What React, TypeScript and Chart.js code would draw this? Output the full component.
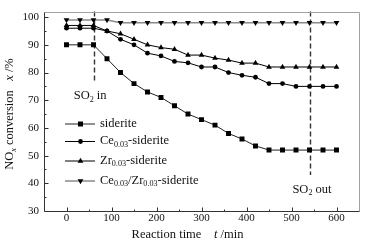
import React, { useEffect, useRef } from 'react';
import { Chart, registerables } from 'chart.js';

Chart.register(...registerables);

// ---- data ----
const times = [0, 30, 60, 90, 120, 150, 180, 210, 240, 270, 300, 330, 360, 390, 420, 450, 480, 510, 540, 570, 600];
const siderite = [90, 90, 90, 85, 80, 76, 73, 71, 68, 65, 63, 61, 58, 56, 53.5, 52, 52, 52, 52, 52, 52];
const ceSiderite = [96, 96, 96, 95, 92, 90, 87, 86, 84, 83.5, 82, 82, 80, 79, 78.3, 76, 76, 75, 75, 75, 75];
const zrSiderite = [97, 97, 97, 95, 94, 92, 90, 89, 88.4, 86.3, 86.3, 85.2, 84.5, 83.4, 83.4, 82, 82, 82, 82, 82, 82];
const ceZrSiderite = [99, 99, 99, 99, 98, 98, 98, 98, 98, 98, 98, 98, 98, 98, 98, 98, 98, 98, 98, 98, 98];

const xTicks = [0, 100, 200, 300, 400, 500, 600];
const xMinorTicks = [50, 150, 250, 350, 450, 550];
const yTicks = [30, 40, 50, 60, 70, 80, 90, 100];
const yMinorTicks = [35, 45, 55, 65, 75, 85, 95];
const xRange = [-50, 650];
const yRange = [30, 102];

type Seg = { t: string; sub?: boolean; it?: boolean };
const legendLabels: Seg[][] = [
  [{ t: 'siderite' }],
  [{ t: 'Ce' }, { t: '0.03', sub: true }, { t: '-siderite' }],
  [{ t: 'Zr' }, { t: '0.03', sub: true }, { t: '-siderite' }],
  [{ t: 'Ce' }, { t: '0.03', sub: true }, { t: '/Zr' }, { t: '0.03', sub: true }, { t: '-siderite' }],
];

// SO2 switching events (time, dashed line end value, label anchor in data units)
const so2Events = [
  { time: 60, endValue: 76.5, label: [{ t: 'SO' }, { t: '2', sub: true }, { t: ' in' }] as Seg[], labelTime: 16, labelValue: 71.6 },
  { time: 540, endValue: 43, label: [{ t: 'SO' }, { t: '2', sub: true }, { t: ' out' }] as Seg[], labelTime: 502, labelValue: 37.8 },
];

const yTitle: Seg[] = [{ t: 'NO' }, { t: 'x', sub: true, it: true }, { t: ' conversion   ' }, { t: 'x', it: true }, { t: ' /%' }];
const xTitle: Seg[] = [{ t: 'Reaction time    ' }, { t: 't', it: true }, { t: ' /min' }];

const FAMILY = "'Liberation Serif', 'Times New Roman', serif";

const styles = [
  { shape: 'rect', color: '#222', width: 1 },
  { shape: 'circle', color: '#000', width: 1 },
  { shape: 'tri', color: '#000', width: 1 },
  { shape: 'triDown', color: '#8a8a8a', width: 1.5 },
];

function segWidth(ctx: CanvasRenderingContext2D, segs: Seg[], size: number) {
  let w = 0;
  for (const s of segs) {
    ctx.font = `${s.it ? 'italic ' : ''}${s.sub ? size * 0.65 : size}px ${FAMILY}`;
    w += ctx.measureText(s.t).width;
  }
  return w;
}

function drawSegs(ctx: CanvasRenderingContext2D, segs: Seg[], x: number, y: number, size: number) {
  ctx.textBaseline = 'middle';
  ctx.textAlign = 'left';
  let cx = x;
  for (const s of segs) {
    const fs = s.sub ? size * 0.65 : size;
    ctx.font = `${s.it ? 'italic ' : ''}${fs}px ${FAMILY}`;
    ctx.fillText(s.t, cx, s.sub ? y + size * 0.3 : y);
    cx += ctx.measureText(s.t).width;
  }
}

function marker(ctx: CanvasRenderingContext2D, shape: string, x: number, y: number) {
  ctx.beginPath();
  if (shape === 'rect') {
    ctx.rect(x - 2.5, y - 2.5, 5, 5);
  } else if (shape === 'circle') {
    ctx.arc(x, y, 2.4, 0, Math.PI * 2);
  } else if (shape === 'tri') {
    ctx.moveTo(x, y - 3.3);
    ctx.lineTo(x + 2.9, y + 1.7);
    ctx.lineTo(x - 2.9, y + 1.7);
    ctx.closePath();
  } else {
    ctx.moveTo(x, y + 3.3);
    ctx.lineTo(x + 2.9, y - 1.7);
    ctx.lineTo(x - 2.9, y - 1.7);
    ctx.closePath();
  }
  ctx.fillStyle = '#000';
  ctx.fill();
}

const overlay = {
  id: 'overlay',
  beforeDatasetsDraw(chart: any) {
    const { ctx, chartArea: a, scales } = chart;
    const x = scales.x, y = scales.y;
    ctx.save();
    ctx.strokeStyle = '#333';
    ctx.lineWidth = 1.4;
    ctx.setLineDash([5, 3]);
    for (const ev of so2Events) {
      const px = Math.round(x.getPixelForValue(ev.time)) + 0.5;
      ctx.beginPath();
      ctx.moveTo(px, a.top);
      ctx.lineTo(px, y.getPixelForValue(ev.endValue));
      ctx.stroke();
    }
    ctx.restore();
  },
  afterDraw(chart: any) {
    const { ctx, chartArea: a, scales } = chart;
    const x = scales.x, y = scales.y;
    ctx.save();
    // frame
    ctx.lineWidth = 1;
    ctx.strokeStyle = '#a0a0a0';
    ctx.beginPath();
    ctx.moveTo(Math.round(a.left) + 0.5, Math.round(a.top) + 0.5);
    ctx.lineTo(Math.round(a.right) + 0.5, Math.round(a.top) + 0.5);
    ctx.lineTo(Math.round(a.right) + 0.5, Math.round(a.bottom) + 0.5);
    ctx.stroke();
    ctx.strokeStyle = '#333';
    ctx.beginPath();
    ctx.moveTo(Math.round(a.left) + 0.5, Math.round(a.top) + 0.5);
    ctx.lineTo(Math.round(a.left) + 0.5, Math.round(a.bottom) + 0.5);
    ctx.lineTo(Math.round(a.right) + 0.5, Math.round(a.bottom) + 0.5);
    ctx.stroke();
    // ticks (inward)
    ctx.beginPath();
    const b = Math.round(a.bottom) + 0.5;
    const l = Math.round(a.left) + 0.5;
    for (const v of xTicks) { const p = Math.round(x.getPixelForValue(v)) + 0.5; ctx.moveTo(p, b); ctx.lineTo(p, b - 4); }
    for (const v of xMinorTicks) { const p = Math.round(x.getPixelForValue(v)) + 0.5; ctx.moveTo(p, b); ctx.lineTo(p, b - 2); }
    for (const v of yTicks) { const p = Math.round(y.getPixelForValue(v)) + 0.5; ctx.moveTo(l, p); ctx.lineTo(l + 4, p); }
    for (const v of yMinorTicks) { const p = Math.round(y.getPixelForValue(v)) + 0.5; ctx.moveTo(l, p); ctx.lineTo(l + 2, p); }
    ctx.stroke();

    ctx.fillStyle = '#111';
    // SO2 labels
    for (const ev of so2Events) {
      drawSegs(ctx, ev.label, x.getPixelForValue(ev.labelTime), y.getPixelForValue(ev.labelValue), 12.5);
    }

    // legend
    const rows = [123.5, 141, 160.5, 180.5];
    styles.forEach((s, i) => {
      const ry = rows[i];
      ctx.strokeStyle = s.color;
      ctx.lineWidth = s.width;
      ctx.beginPath();
      ctx.moveTo(65, ry + 0.5);
      ctx.lineTo(95, ry + 0.5);
      ctx.stroke();
      marker(ctx, s.shape, 80.5, ry + 0.5);
      ctx.fillStyle = '#111';
      drawSegs(ctx, legendLabels[i], 100, ry, 12.5);
    });

    // x title
    const xw = segWidth(ctx, xTitle, 12.5);
    drawSegs(ctx, xTitle, 187.5 - xw / 2, 235, 12.5);

    // y title rotated
    const yw = segWidth(ctx, yTitle, 12.5);
    ctx.save();
    ctx.translate(10, 114 + yw / 2);
    ctx.rotate(-Math.PI / 2);
    drawSegs(ctx, yTitle, 0, 0, 12.5);
    ctx.restore();

    ctx.restore();
  },
};

export default function App() {
  const ref = useRef<HTMLCanvasElement>(null);
  useEffect(() => {
    const series = [siderite, ceSiderite, zrSiderite, ceZrSiderite];
    const pointStyles = ['rect', 'circle', 'triangle', 'triangle'];
    const radii = [3.5, 2.4, 3.3, 3.3];
    const rotations = [0, 0, 0, 180];
    const chart = new Chart(ref.current!, {
      type: 'line',
      data: {
        datasets: series.map((vals, i) => ({
          label: String(i),
          data: times.map((t, j) => ({ x: t, y: vals[j] })),
          borderColor: styles[i].color,
          borderWidth: styles[i].width,
          backgroundColor: '#000',
          pointBackgroundColor: '#000',
          pointBorderColor: '#000',
          pointBorderWidth: 0,
          pointStyle: pointStyles[i] as any,
          pointRadius: radii[i],
          pointRotation: rotations[i],
          tension: 0,
          fill: false,
        })),
      },
      options: {
        animation: false,
        responsive: false,
        events: [],
        layout: { padding: { top: 5, right: 7, left: 0, bottom: 0 } },
        plugins: { legend: { display: false }, tooltip: { enabled: false } },
        scales: {
          x: {
            type: 'linear',
            min: xRange[0],
            max: xRange[1],
            afterBuildTicks: (s: any) => { s.ticks = xTicks.map((v) => ({ value: v })); },
            afterFit: (s: any) => { s.height = 37; },
            grid: { display: false, drawTicks: false },
            border: { display: false },
            ticks: { font: { family: FAMILY, size: 11 }, color: '#111', padding: 1, maxRotation: 0, autoSkip: false },
          },
          y: {
            type: 'linear',
            min: yRange[0],
            max: yRange[1],
            afterBuildTicks: (s: any) => { s.ticks = yTicks.map((v) => ({ value: v })); },
            afterFit: (s: any) => { s.width = 44; },
            grid: { display: false, drawTicks: false },
            border: { display: false },
            ticks: { font: { family: FAMILY, size: 11 }, color: '#111', padding: 5, autoSkip: false },
          },
        },
      },
      plugins: [overlay],
    });
    return () => chart.destroy();
  }, []);
  return (
    <div style={{ position: 'fixed', left: 0, top: 0, width: 366, height: 248, background: '#fff' }}>
      <canvas ref={ref} width={366} height={248} style={{ display: 'block', width: 366, height: 248 }} />
    </div>
  );
}
